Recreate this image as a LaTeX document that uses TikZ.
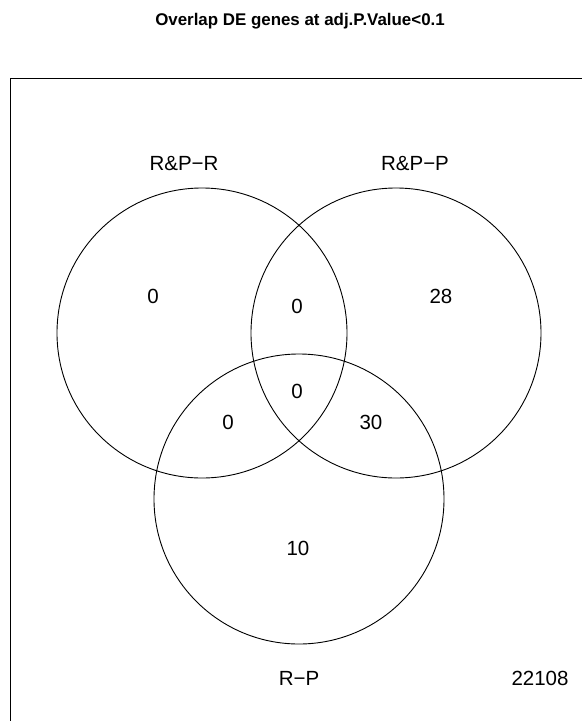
\documentclass[tikz,border=0pt]{standalone}
\usepackage{fontspec}
\setmainfont{Liberation Sans}
\usetikzlibrary{positioning}

\begin{document}
\begin{tikzpicture}[x=1pt, y=-1pt,
  every node/.style={text=black, font=\fontsize{20.5}{24}\selectfont, inner sep=0pt},
  setline/.style={black, line width=0.9pt},
]

% Canvas
\useasboundingbox (0,0) rectangle (582,721);

% Title
\node[font=\fontsize{16.9}{20}\selectfont\bfseries] (title) at (300,21) {Overlap DE genes at adj.P.Value<0.1};

% Plot frame (left and top edges)
\draw[black, line width=0.8pt] (10,721) -- (10,78.5) -- (582,78.5);

% ============ Circles ============
\def\rad{145pt}
\coordinate (cR) at (202,333);
\coordinate (cP) at (396,333);
\coordinate (cRP) at (299,499);
\foreach \c in {cR, cP, cRP} {
  \draw[setline] (\c) circle (\rad);
}

% Set names
\node (setR) at (184,164) {R\&P−R};
\node (setP) at (415,164) {R\&P−P};
\node (setRP) at (299,678) {R−P};

% ============ Counts ============
\foreach \name/\x/\y/\n in {onlyR/153/296/0, RP/297/306/0, onlyP/441/296/28,
    all/297/391/0, RRP/228/422/0, PRP/371/422/30, onlyRP/298/548/10} {
  \node (\name) at (\x,\y) {\n};
}
\node (none) at (540,678) {22108};

\end{tikzpicture}
\end{document}
